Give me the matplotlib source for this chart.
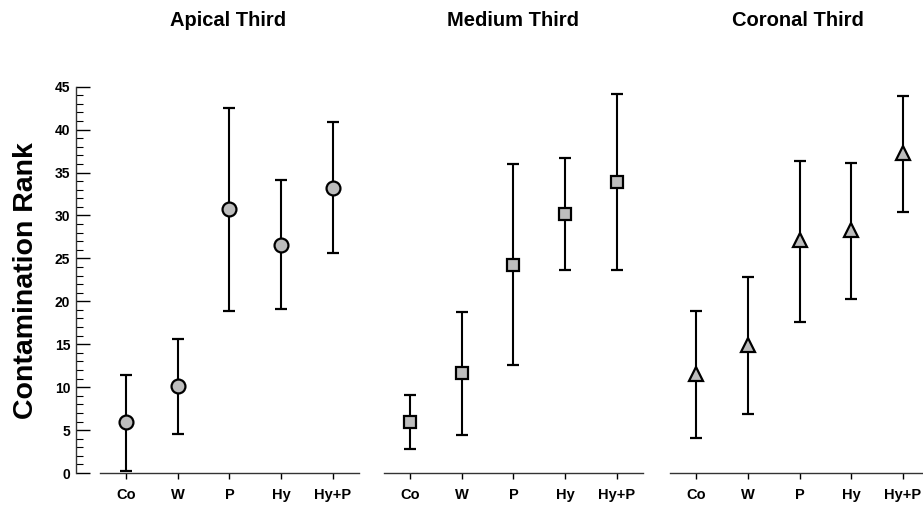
import matplotlib.pyplot as plt
import numpy as np

plt.rcParams['font.family'] = ['Liberation Sans', 'DejaVu Sans']
plt.rcParams['font.weight'] = 'bold'

groups = ['Co', 'W', 'P', 'Hy', 'Hy+P']
titles = ['Apical Third', 'Medium Third', 'Coronal Third']

# mean rank, upper and lower limits of the bars
apical_mean = [5.9, 10.1, 30.7, 26.6, 33.2]
apical_hi = [11.4, 15.65, 42.5, 34.1, 40.9]
apical_lo = [0.25, 4.6, 18.9, 19.15, 25.6]

medium_mean = [5.9, 11.6, 24.2, 30.2, 33.95]
medium_hi = [9.1, 18.8, 36.0, 36.7, 44.2]
medium_lo = [2.8, 4.4, 12.55, 23.65, 23.65]

coronal_mean = [11.5, 14.9, 27.1, 28.3, 37.25]
coronal_hi = [18.9, 22.85, 36.4, 36.15, 43.9]
coronal_lo = [4.05, 6.85, 17.6, 20.3, 30.45]

data = [(apical_mean, apical_hi, apical_lo),
        (medium_mean, medium_hi, medium_lo),
        (coronal_mean, coronal_hi, coronal_lo)]
markers = [('o', 10), ('s', 9), ('^', 10.5)]

fig = plt.figure(figsize=(9.23, 5.07), dpi=100)

bottom = 0.067
height = 0.762
boxes = [(0.0821, 0.3066, -0.97), (0.4161, 0.2804, -0.5), (0.726, 0.2804, -0.5)]
title_x = [228, 513, 798]

x = np.arange(len(groups))
for i, (left, width, x0) in enumerate(boxes):
    ax = fig.add_axes([left, bottom, width, height])
    mean, hi, lo = [np.array(a) for a in data[i]]
    err = [mean - lo, hi - mean]
    m, ms = markers[i]
    ax.errorbar(x, mean, yerr=err, fmt=m, ms=ms, mfc='#bdbdbd', mec='black',
                mew=1.6, ecolor='black', elinewidth=1.5, capsize=4.5,
                capthick=1.5, color='black', clip_on=False, zorder=3)
    ax.set_xlim(x0, 4.5)
    ax.set_ylim(0, 45)
    ax.spines['top'].set_visible(False)
    ax.spines['right'].set_visible(False)
    ax.spines['bottom'].set_bounds(-0.5, 4.5)
    ax.spines['bottom'].set_linewidth(1.0)
    ax.spines['bottom'].set_color('#333333')
    ax.set_xticks(x)
    ax.set_xticklabels(groups, fontsize=10.5, fontweight='bold')
    ax.tick_params(axis='x', direction='out', length=4, width=1, pad=7)
    if i == 0:
        ax.set_yticks(np.arange(0, 46, 5))
        ax.set_yticks(np.arange(0, 46, 1), minor=True)
        ax.tick_params(axis='y', which='major', direction='in', length=10,
                       width=1, labelsize=10, pad=4)
        ax.tick_params(axis='y', which='minor', direction='in', length=5,
                       width=0.8)
        for lab in ax.get_yticklabels():
            lab.set_fontweight('bold')
        ax.spines['left'].set_linewidth(1.0)
        ax.spines['left'].set_color('#333333')
    else:
        ax.spines['left'].set_visible(False)
        ax.set_yticks([])
    ax.patch.set_visible(False)
    fig.text(title_x[i] / 923, 1 - 21 / 507, titles[i], ha='center',
             va='center', fontsize=14.5, fontweight='bold')

fig.text(26 / 923, 1 - 281 / 507, 'Contamination Rank', rotation=90,
         ha='center', va='center', fontsize=20.5, fontweight='bold')

fig.savefig('out.png', dpi=100)
